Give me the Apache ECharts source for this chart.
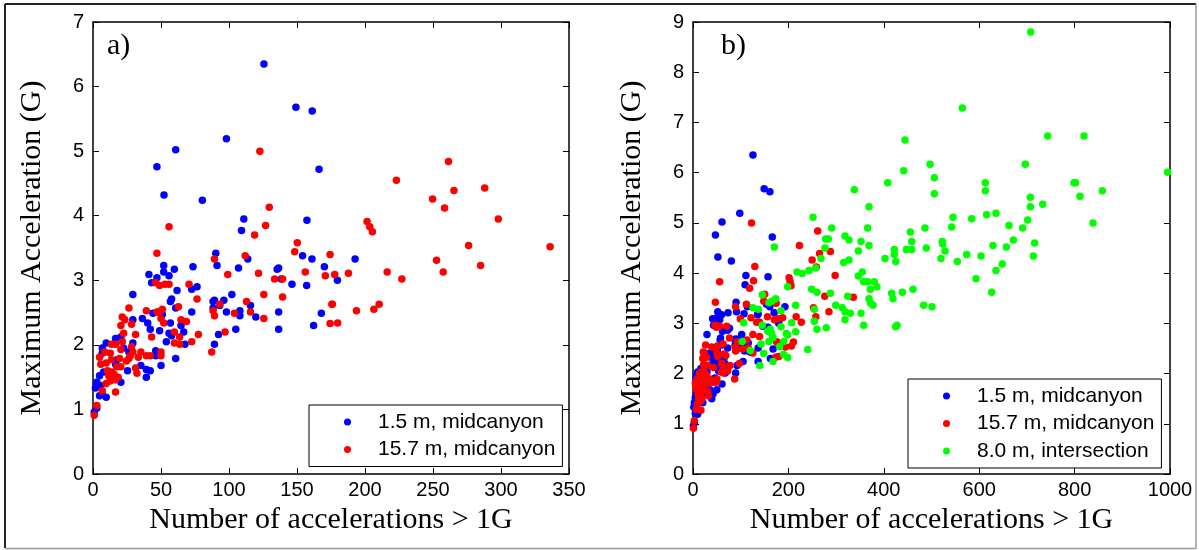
<!DOCTYPE html>
<html>
<head>
<meta charset="utf-8">
<script src="https://cdn.jsdelivr.net/npm/echarts@6/dist/echarts.min.js"></script>
<style>
html,body{margin:0;padding:0;background:#fff;}
#chart{width:1199px;height:550px;}
</style>
</head>
<body>
<div id="chart"></div>
<script>
// ---- Data ----
const seriesNames = ['1.5 m, midcanyon', '15.7 m, midcanyon', '8.0 m, intersection'];
const panelLabels = ['a)', 'b)'];
const xTitle = 'Number of accelerations > 1G';
const yTitle = 'Maximum Acceleration (G)';

// 1.5 m, midcanyon: [number of accelerations, max acceleration]
const blue15 = [
[125.7,6.35],[149.2,5.68],[161.2,5.62],[98.1,5.19],[60.8,5.02],[47,4.76],[166.2,4.72],[52.2,4.32],[80.4,4.24],
[110.9,3.95],[157.3,3.93],[109.2,3.77],[192.7,3.33],[179.7,3.00],
[90.3,3.42],[154.1,3.38],[113.8,3.33],[161,3.33],[52,3.23],[91.2,3.23],[73.5,3.21],[59.8,3.17],[107,3.19],
[136.5,3.19],[135.4,3.17],[170.1,3.21],[41.1,3.09],[52,3.13],[55.9,3.07],[47,3.04],[43.1,2.96],[138.4,3.02],
[146.3,2.94],[157.1,2.92],[72.6,2.86],[76.5,2.90],[61.8,2.84],[29.3,2.78],[102.1,2.78],[96.2,2.69],[57.8,2.71],
[56.9,2.67],[89.3,2.69],[88.3,2.67],[93.2,2.61],[115.8,2.61],[60.8,2.57],[72.6,2.51],[88.3,2.57],[98.1,2.51],
[108,2.53],[108,2.45],[119.7,2.43],[136.5,2.51],[167.9,2.49],[29.3,2.39],[36.3,2.41],[40.2,2.34],[44.1,2.49],
[51,2.47],[42.1,2.24],[49,2.22],[56.9,2.34],[64.7,2.30],[66.7,2.20],[55.9,2.18],[57.8,2.14],[53.9,2.05],
[67.6,2.01],[89.3,2.01],[92.3,2.16],[105,2.24],[16.6,2.10],[20.5,2.12],[9.7,2.03],[6.8,1.95],[29.3,2.03],
[22.5,1.95],[26.4,1.89],[46.1,1.91],[46.1,1.83],[60.8,1.79],[50,1.68],[35.2,1.68],[39.2,1.62],[42.1,1.60],
[39.2,1.50],[25.4,1.60],[17.5,1.77],[6.8,1.87],[16.6,1.70],[7.7,1.58],[20.5,1.42],[4.8,1.52],[2.8,1.42],
[5.7,1.37],[1.8,1.33],[6.8,1.23],[9.7,1.19],[4.8,1.21],[2.8,1.02],[0.9,0.96],[136.5,2.24],[162.2,2.30]
];

// 15.7 m, midcanyon
const red157 = [
[122.7,5.00],[129.6,4.13],[55.9,3.83],[126.9,3.85],[118.8,3.70],[150.2,3.58],
[261.4,4.84],[223.1,4.55],[288,4.43],[265.4,4.39],[249.7,4.26],[258.5,4.12],[298,3.95],[201.5,3.91],
[203.5,3.83],[205.4,3.75],[276.2,3.54],[336.1,3.52],[252.6,3.31],[285,3.23],[187.8,3.11],[216.3,3.13],
[257.5,3.13],[177.7,3.09],[227.1,3.02],[176,2.63],[210.4,2.63],[206.5,2.55],[193.7,2.53],[179.9,2.34],
[174.3,2.33],[174.3,3.40],
[47,3.42],[148.3,3.44],[111.9,3.38],[89.3,3.33],[121.7,3.11],[99.1,3.09],[170.8,3.07],[156.1,3.13],
[46.1,2.96],[49,2.92],[52.9,2.94],[55.9,2.94],[133.5,3.02],[139.4,3.02],[70.6,2.94],[76.5,2.71],[125.6,2.78],
[139.4,2.74],[93.2,2.63],[112.9,2.67],[26.4,2.57],[39.2,2.53],[48,2.51],[51,2.55],[62.8,2.59],[88.3,2.53],
[115.8,2.51],[125.6,2.41],[104,2.49],[89.3,2.45],[175.7,2.63],[21.5,2.43],[23.4,2.39],[20.5,2.30],[28.4,2.32],
[50,2.41],[52,2.34],[47,2.51],[43.1,2.12],[64.7,2.39],[68.7,2.36],[59.8,2.20],[63.7,2.12],[59.8,2.03],
[63.7,2.01],[72.6,2.05],[77.5,2.16],[87.3,1.89],[97.1,2.20],[22.5,2.18],[31.3,2.16],[13.6,2.01],[16.6,2.01],
[21.5,2.05],[28.4,1.97],[20.5,1.93],[29.3,1.89],[33.3,1.81],[27.4,1.83],[35.2,1.89],[39.2,1.83],[42.1,1.83],
[50,1.89],[50,1.83],[31.3,1.64],[32.3,1.56],[26.4,1.79],[24.5,1.75],[4.8,1.81],[8.7,1.89],[12.7,1.87],
[5.7,1.70],[9.7,1.72],[13.6,1.77],[19.5,1.79],[17.5,1.66],[20.5,1.66],[10.7,1.60],[13.6,1.58],[11.6,1.52],
[15.6,1.54],[18.5,1.50],[16.6,1.46],[12.7,1.44],[9.7,1.40],[6.8,1.29],[16.6,1.27],[2.8,1.06],[0.9,0.91]
];

// 8.0 m, intersection
const green80 = [
[708,8.80],[564.6,7.29],[743.6,6.73],[819.7,6.73],[496.9,6.17],[696.7,6.17],[995,6.01],[505.9,5.90],[612.8,5.80],
[798.7,5.80],[802,5.80],[505.9,5.58],[612.8,5.64],[858,5.64],[811.3,5.53],[707.2,5.51],[733.1,5.37],[707.2,5.32],
[635.2,5.19],[615.6,5.16],[545.1,5.11],[584.2,5.08],[542.3,4.92],[701.6,5.06],[662.5,4.95],[691.1,4.90],
[838.6,5.00],[671.5,4.66],[522.6,4.63],[523.5,4.58],[716.3,4.60],[628.9,4.55],[656.8,4.52],[528.3,4.44],
[573.8,4.37],[603.8,4.34],[713.5,4.34],[519.9,4.29],[554.1,4.23],[648.5,4.18],[635.2,4.05],[593.3,3.89],
[626.2,3.62],[501,3.33],
[444.4,6.65],[441.7,6.04],[408.2,5.80],[338.2,5.66],[369,5.32],[251.6,5.11],[290.8,4.90],[366.2,4.90],
[486.4,4.90],[455.6,4.82],[278.2,4.68],[283.7,4.68],[318.7,4.74],[327.1,4.66],[352.2,4.63],[369,4.55],
[276.7,4.50],[458.5,4.63],[422,4.47],[447.2,4.47],[458.5,4.47],[489.1,4.50],[346.6,4.44],[422,4.37],
[268.3,4.29],[402.5,4.29],[425,4.23],[315.9,4.21],[327.1,4.26],[218,4.02],[229.2,3.99],[243.2,4.05],
[257.2,4.10],[355,4.02],[346.6,3.94],[357.9,3.83],[366.2,3.83],[380.1,3.83],[385.7,3.73],[371.7,3.68],
[198.5,3.73],[248.8,3.68],[260,3.62],[287.9,3.60],[438.8,3.62],[461.2,3.68],[416.5,3.60],[419.3,3.49],
[324.3,3.54],[369,3.49],[371.7,3.41],[377.4,3.36],[215.3,3.36],[299.1,3.36],[313,3.31],[318.7,3.23],
[329.8,3.20],[352.2,3.20],[483.6,3.36],[254.3,3.28],[184.5,3.25],[206.9,3.01],[254.3,3.04],[318.7,3.07],
[357.9,2.96],[427.7,2.96],[425,2.93],[260,2.88],[279.5,2.91],[215.3,2.83],[184.5,2.93],[195.6,2.80],
[198.5,2.77],[190.1,2.64],[240.5,2.48],[190.1,2.38],[198.5,2.32],
[170.5,4.52],[145.3,3.57],[173.4,3.49],[165,3.44],[159.3,3.41],[125.8,3.31],[136.9,3.28],[106.3,3.01],
[145.3,2.96],[162.1,2.88],[156.6,2.84],[165,2.80],[167.7,2.72],[148.2,2.40],[142.6,2.59],[120.1,2.46],
[167.7,2.24],[139.8,2.16],[103.4,2.64],[181.8,2.54],[159.3,2.64]
];

// axis ranges / ticks
const xRangeA = [0, 350, 50];
const yRangeA = [0, 7, 1];
const xRangeB = [0, 1000, 200];
const yRangeB = [0, 9, 1];

const colors = ['#0000ff', '#ff0000', '#00ff00'];

// ---- Chart ----
const chart = echarts.init(document.getElementById('chart'), null, {renderer: 'canvas'});
const sans = 'Liberation Sans, Arial, sans-serif';
const serif = 'Liberation Serif, Times New Roman, serif';

function axis(kind, gridIndex, range, position, withLabels, name) {
  const a = {
    type: 'value', gridIndex: gridIndex, position: position,
    min: range[0], max: range[1], interval: range[2],
    axisLine: {show: true, onZero: false, lineStyle: {color: '#000', width: 1.5}},
    axisTick: {show: true, inside: true, length: 6, lineStyle: {color: '#000', width: 1}},
    axisLabel: {show: withLabels, color: '#000', fontFamily: sans, fontSize: 20,
                margin: kind === 'x' ? 6 : 9, formatter: function (v) { return String(v); }},
    splitLine: {show: false}
  };
  if (name) {
    a.name = name;
    a.nameLocation = 'middle';
    a.nameGap = kind === 'x' ? 30 : 46;
    a.nameTextStyle = {color: '#000', fontFamily: serif, fontSize: 30};
  }
  return a;
}

function scatter(name, xi, data, color) {
  return {name: name, type: 'scatter', xAxisIndex: xi, yAxisIndex: xi, data: data,
          symbolSize: 7.5, itemStyle: {color: color, opacity: 1}, emphasis: {disabled: true}};
}

function legend(names, left, top) {
  return {
    data: names, orient: 'vertical', left: left, top: top,
    icon: 'circle', itemWidth: 7, itemHeight: 7, itemGap: 5.5,
    borderColor: '#000', borderWidth: 1, backgroundColor: '#fff',
    padding: [6, 7, 6, 35],
    textStyle: {color: '#000', fontFamily: sans, fontSize: 21, lineHeight: 22, padding: [0, 0, 0, 22]},
    selectedMode: false
  };
}

const option = {
  animation: false,
  backgroundColor: '#fff',
  grid: [
    {left: 93, top: 22, width: 476, height: 452},
    {left: 693, top: 22, width: 477, height: 452}
  ],
  xAxis: [
    axis('x', 0, xRangeA, 'bottom', true, xTitle),
    axis('x', 0, xRangeA, 'top', false),
    axis('x', 1, xRangeB, 'bottom', true, xTitle),
    axis('x', 1, xRangeB, 'top', false)
  ],
  yAxis: [
    axis('y', 0, yRangeA, 'left', true, yTitle),
    axis('y', 0, yRangeA, 'right', false),
    axis('y', 1, yRangeB, 'left', true, yTitle),
    axis('y', 1, yRangeB, 'right', false)
  ],
  legend: [
    legend(seriesNames.slice(0, 2), 309, 405),
    legend(seriesNames, 908, 379)
  ],
  graphic: [
    {type: 'line', shape: {x1: 5, y1: 4, x2: 1196, y2: 4}, style: {stroke: '#222', lineWidth: 2}},
    {type: 'line', shape: {x1: 5, y1: 4, x2: 5, y2: 548}, style: {stroke: '#222', lineWidth: 2}},
    {type: 'line', shape: {x1: 5, y1: 548.5, x2: 1196, y2: 548.5}, style: {stroke: '#999', lineWidth: 1.5}},
    {type: 'line', shape: {x1: 1196, y1: 4, x2: 1196, y2: 548.5}, style: {stroke: '#999', lineWidth: 1.5}},
    {type: 'text', left: 107, top: 31, style: {text: panelLabels[0], font: '30px ' + serif, fill: '#000'}},
    {type: 'text', left: 721, top: 31, style: {text: panelLabels[1], font: '30px ' + serif, fill: '#000'}}
  ],
  series: [
    scatter(seriesNames[0], 0, blue15, colors[0]),
    scatter(seriesNames[1], 0, red157, colors[1]),
    scatter(seriesNames[0], 2, blue15, colors[0]),
    scatter(seriesNames[1], 2, red157, colors[1]),
    scatter(seriesNames[2], 2, green80, colors[2])
  ]
};
chart.setOption(option);
</script>
</body>
</html>
